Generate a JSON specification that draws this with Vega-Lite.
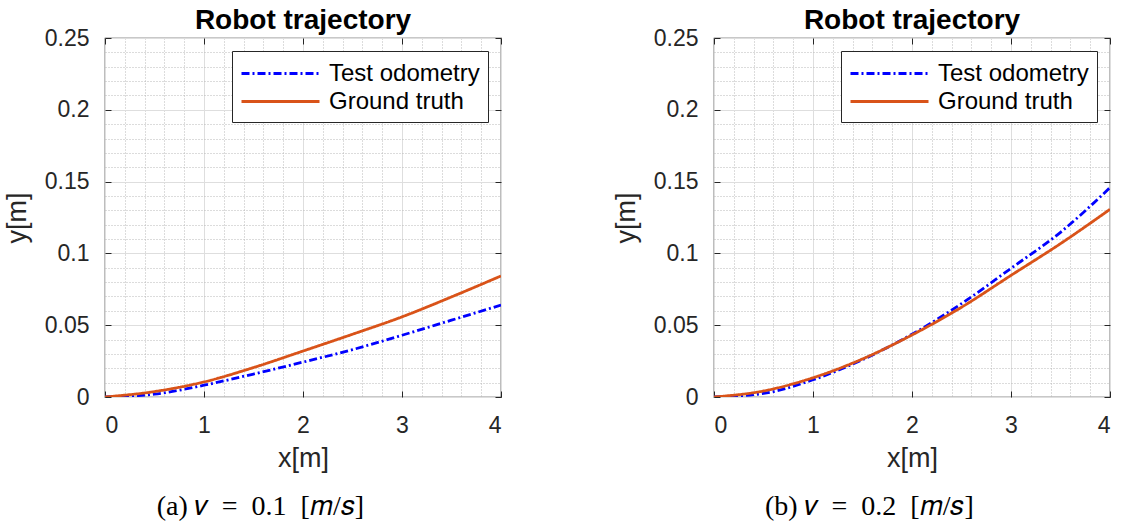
{
  "$schema": "https://vega.github.io/schema/vega-lite/v6.json",
  "background": "white",
  "padding": {"left": 2, "top": 6, "right": 4, "bottom": 2},
  "spacing": 108,
  "resolve": {"scale": {"color": "independent", "strokeDash": "independent"}, "legend": {"color": "independent", "strokeDash": "independent"}},
  "config": {
    "font": "Liberation Sans",
    "view": {"stroke": "#262626", "strokeWidth": 1.2},
    "axis": {"labelFont": "Liberation Sans", "labelFontSize": 23, "labelColor": "#262626", "titleFont": "Liberation Sans", "titleFontSize": 27, "titleFontWeight": "normal", "titleColor": "#262626", "tickColor": "#262626", "tickWidth": 1},
    "legend": {"orient": "top-right", "offset": 13, "padding": 8, "strokeColor": "#262626", "fillColor": "white", "labelFont": "Liberation Sans", "labelFontSize": 24, "labelColor": "black", "symbolType": "M-1,0H5", "symbolSize": 676, "symbolStrokeWidth": 3, "labelOffset": 60, "rowPadding": 1, "cornerRadius": 0, "labelLimit": 300}
  },
  "datasets": {
    "traj": [
      {"panel": "a", "series": "Test odometry", "x": 0, "y": 0},
      {"panel": "a", "series": "Test odometry", "x": 0.5, "y": 0.002},
      {"panel": "a", "series": "Test odometry", "x": 1, "y": 0.0082},
      {"panel": "a", "series": "Test odometry", "x": 1.5, "y": 0.016},
      {"panel": "a", "series": "Test odometry", "x": 2, "y": 0.0243},
      {"panel": "a", "series": "Test odometry", "x": 2.5, "y": 0.033},
      {"panel": "a", "series": "Test odometry", "x": 3, "y": 0.043},
      {"panel": "a", "series": "Test odometry", "x": 3.5, "y": 0.0535},
      {"panel": "a", "series": "Test odometry", "x": 4, "y": 0.064},
      {"panel": "a", "series": "Ground truth", "x": 0, "y": 0},
      {"panel": "a", "series": "Ground truth", "x": 0.5, "y": 0.0038},
      {"panel": "a", "series": "Ground truth", "x": 1, "y": 0.0105},
      {"panel": "a", "series": "Ground truth", "x": 1.5, "y": 0.0205},
      {"panel": "a", "series": "Ground truth", "x": 2, "y": 0.032},
      {"panel": "a", "series": "Ground truth", "x": 2.5, "y": 0.0437},
      {"panel": "a", "series": "Ground truth", "x": 3, "y": 0.0558},
      {"panel": "a", "series": "Ground truth", "x": 3.5, "y": 0.0697},
      {"panel": "a", "series": "Ground truth", "x": 4, "y": 0.0843},
      {"panel": "b", "series": "Test odometry", "x": 0, "y": 0},
      {"panel": "b", "series": "Test odometry", "x": 0.5, "y": 0.0025},
      {"panel": "b", "series": "Test odometry", "x": 1, "y": 0.012},
      {"panel": "b", "series": "Test odometry", "x": 1.5, "y": 0.026},
      {"panel": "b", "series": "Test odometry", "x": 2, "y": 0.0437},
      {"panel": "b", "series": "Test odometry", "x": 2.5, "y": 0.065},
      {"panel": "b", "series": "Test odometry", "x": 3, "y": 0.0896},
      {"panel": "b", "series": "Test odometry", "x": 3.5, "y": 0.1147},
      {"panel": "b", "series": "Test odometry", "x": 4, "y": 0.1458},
      {"panel": "b", "series": "Ground truth", "x": 0, "y": 0},
      {"panel": "b", "series": "Ground truth", "x": 0.5, "y": 0.0042},
      {"panel": "b", "series": "Ground truth", "x": 1, "y": 0.0134},
      {"panel": "b", "series": "Ground truth", "x": 1.5, "y": 0.0265},
      {"panel": "b", "series": "Ground truth", "x": 2, "y": 0.0432},
      {"panel": "b", "series": "Ground truth", "x": 2.5, "y": 0.0625},
      {"panel": "b", "series": "Ground truth", "x": 3, "y": 0.0847},
      {"panel": "b", "series": "Ground truth", "x": 3.5, "y": 0.1068},
      {"panel": "b", "series": "Ground truth", "x": 4, "y": 0.1307}
    ]
  },
  "hconcat": [
    {
      "title": {"text": "(a) 𝑣\u2002=\u20020.1\u2002[𝑚/𝑠]", "orient": "bottom", "frame": "bounds", "anchor": "middle", "font": "Liberation Serif", "fontSize": 28, "fontWeight": "normal", "color": "black", "offset": 21, "dx": 8},
      "resolve": {"scale": {"color": "independent", "strokeDash": "independent"}, "legend": {"color": "independent", "strokeDash": "independent"}},
      "vconcat": [
        {
          "title": {"text": "Robot trajectory", "font": "Liberation Sans", "fontSize": 28, "fontWeight": "bold", "color": "black", "anchor": "middle", "frame": "group", "offset": -8},
          "width": 396,
          "height": 359,
          "data": {"name": "traj"},
          "transform": [{"filter": "datum.panel === 'a'"}],
          "resolve": {"axis": {"x": "independent", "y": "independent"}},
          "layer": [
            {
              "mark": {"type": "line", "opacity": 0},
              "encoding": {
                "x": {"field": "x", "type": "quantitative", "scale": {"domain": [0, 4], "nice": false},
                  "axis": {"orient": "bottom", "values": [0,0.2,0.4,0.6,0.8,1,1.2,1.4,1.6,1.8,2,2.2,2.4,2.6,2.8,3,3.2,3.4,3.6,3.8,4], "grid": true, "gridColor": "#b8b8b8", "gridDash": [1, 2], "gridWidth": 1, "labels": false, "ticks": false, "domain": false, "title": null, "minExtent": 0, "maxExtent": 0}},
                "y": {"field": "y", "type": "quantitative", "scale": {"domain": [0, 0.25], "nice": false},
                  "axis": {"orient": "left", "values": [0,0.01,0.02,0.03,0.04,0.05,0.06,0.07,0.08,0.09,0.1,0.11,0.12,0.13,0.14,0.15,0.16,0.17,0.18,0.19,0.2,0.21,0.22,0.23,0.24,0.25], "grid": true, "gridColor": "#b8b8b8", "gridDash": [1, 2], "gridWidth": 1, "labels": false, "ticks": false, "domain": false, "title": null, "minExtent": 0, "maxExtent": 0}},
                "detail": {"field": "series"}
              }
            },
            {
              "mark": {"type": "line", "strokeWidth": 2.8, "interpolate": "monotone", "clip": true},
              "encoding": {
                "x": {"field": "x", "type": "quantitative", "scale": {"domain": [0, 4], "nice": false},
                  "axis": {"orient": "bottom", "values": [0, 1, 2, 3, 4], "format": "~g", "grid": true, "gridColor": "#dedede", "gridWidth": 1, "domain": false, "ticks": true, "tickSize": -6, "labelPadding": 23, "titlePadding": 8, "title": "x[m]"}},
                "y": {"field": "y", "type": "quantitative", "scale": {"domain": [0, 0.25], "nice": false},
                  "axis": {"orient": "left", "values": [0, 0.05, 0.1, 0.15, 0.2, 0.25], "format": "~g", "grid": true, "gridColor": "#dedede", "gridWidth": 1, "domain": false, "ticks": true, "tickSize": -6, "labelPadding": 22, "titlePadding": 13, "title": "y[m]"}},
                "color": {"field": "series", "type": "nominal", "scale": {"domain": ["Test odometry", "Ground truth"], "range": ["#0000FF", "#D95319"]}, "legend": {"title": null}},
                "strokeDash": {"field": "series", "type": "nominal", "scale": {"domain": ["Test odometry", "Ground truth"], "range": [[8, 3, 2, 3], [1, 0]]}, "legend": {"title": null}}
              }
            },
            {
              "mark": {"type": "line", "opacity": 0},
              "encoding": {
                "x": {"field": "x", "type": "quantitative", "scale": {"domain": [0, 4], "nice": false},
                  "axis": {"orient": "top", "values": [0, 1, 2, 3, 4], "grid": false, "labels": false, "domain": false, "ticks": true, "tickSize": -6, "title": null, "minExtent": 0, "maxExtent": 0}},
                "y": {"field": "y", "type": "quantitative", "scale": {"domain": [0, 0.25], "nice": false},
                  "axis": {"orient": "right", "values": [0, 0.05, 0.1, 0.15, 0.2, 0.25], "grid": false, "labels": false, "domain": false, "ticks": true, "tickSize": -6, "title": null, "minExtent": 0, "maxExtent": 0}},
                "detail": {"field": "series"}
              }
            }
          ]
        }
      ]
    },
    {
      "title": {"text": "(b) 𝑣\u2002=\u20020.2\u2002[𝑚/𝑠]", "orient": "bottom", "frame": "bounds", "anchor": "middle", "font": "Liberation Serif", "fontSize": 28, "fontWeight": "normal", "color": "black", "offset": 21, "dx": 8},
      "resolve": {"scale": {"color": "independent", "strokeDash": "independent"}, "legend": {"color": "independent", "strokeDash": "independent"}},
      "vconcat": [
        {
          "title": {"text": "Robot trajectory", "font": "Liberation Sans", "fontSize": 28, "fontWeight": "bold", "color": "black", "anchor": "middle", "frame": "group", "offset": -8},
          "width": 396,
          "height": 359,
          "data": {"name": "traj"},
          "transform": [{"filter": "datum.panel === 'b'"}],
          "resolve": {"axis": {"x": "independent", "y": "independent"}},
          "layer": [
            {
              "mark": {"type": "line", "opacity": 0},
              "encoding": {
                "x": {"field": "x", "type": "quantitative", "scale": {"domain": [0, 4], "nice": false},
                  "axis": {"orient": "bottom", "values": [0,0.2,0.4,0.6,0.8,1,1.2,1.4,1.6,1.8,2,2.2,2.4,2.6,2.8,3,3.2,3.4,3.6,3.8,4], "grid": true, "gridColor": "#b8b8b8", "gridDash": [1, 2], "gridWidth": 1, "labels": false, "ticks": false, "domain": false, "title": null, "minExtent": 0, "maxExtent": 0}},
                "y": {"field": "y", "type": "quantitative", "scale": {"domain": [0, 0.25], "nice": false},
                  "axis": {"orient": "left", "values": [0,0.01,0.02,0.03,0.04,0.05,0.06,0.07,0.08,0.09,0.1,0.11,0.12,0.13,0.14,0.15,0.16,0.17,0.18,0.19,0.2,0.21,0.22,0.23,0.24,0.25], "grid": true, "gridColor": "#b8b8b8", "gridDash": [1, 2], "gridWidth": 1, "labels": false, "ticks": false, "domain": false, "title": null, "minExtent": 0, "maxExtent": 0}},
                "detail": {"field": "series"}
              }
            },
            {
              "mark": {"type": "line", "strokeWidth": 2.8, "interpolate": "monotone", "clip": true},
              "encoding": {
                "x": {"field": "x", "type": "quantitative", "scale": {"domain": [0, 4], "nice": false},
                  "axis": {"orient": "bottom", "values": [0, 1, 2, 3, 4], "format": "~g", "grid": true, "gridColor": "#dedede", "gridWidth": 1, "domain": false, "ticks": true, "tickSize": -6, "labelPadding": 23, "titlePadding": 8, "title": "x[m]"}},
                "y": {"field": "y", "type": "quantitative", "scale": {"domain": [0, 0.25], "nice": false},
                  "axis": {"orient": "left", "values": [0, 0.05, 0.1, 0.15, 0.2, 0.25], "format": "~g", "grid": true, "gridColor": "#dedede", "gridWidth": 1, "domain": false, "ticks": true, "tickSize": -6, "labelPadding": 22, "titlePadding": 13, "title": "y[m]"}},
                "color": {"field": "series", "type": "nominal", "scale": {"domain": ["Test odometry", "Ground truth"], "range": ["#0000FF", "#D95319"]}, "legend": {"title": null}},
                "strokeDash": {"field": "series", "type": "nominal", "scale": {"domain": ["Test odometry", "Ground truth"], "range": [[8, 3, 2, 3], [1, 0]]}, "legend": {"title": null}}
              }
            },
            {
              "mark": {"type": "line", "opacity": 0},
              "encoding": {
                "x": {"field": "x", "type": "quantitative", "scale": {"domain": [0, 4], "nice": false},
                  "axis": {"orient": "top", "values": [0, 1, 2, 3, 4], "grid": false, "labels": false, "domain": false, "ticks": true, "tickSize": -6, "title": null, "minExtent": 0, "maxExtent": 0}},
                "y": {"field": "y", "type": "quantitative", "scale": {"domain": [0, 0.25], "nice": false},
                  "axis": {"orient": "right", "values": [0, 0.05, 0.1, 0.15, 0.2, 0.25], "grid": false, "labels": false, "domain": false, "ticks": true, "tickSize": -6, "title": null, "minExtent": 0, "maxExtent": 0}},
                "detail": {"field": "series"}
              }
            }
          ]
        }
      ]
    }
  ]
}
